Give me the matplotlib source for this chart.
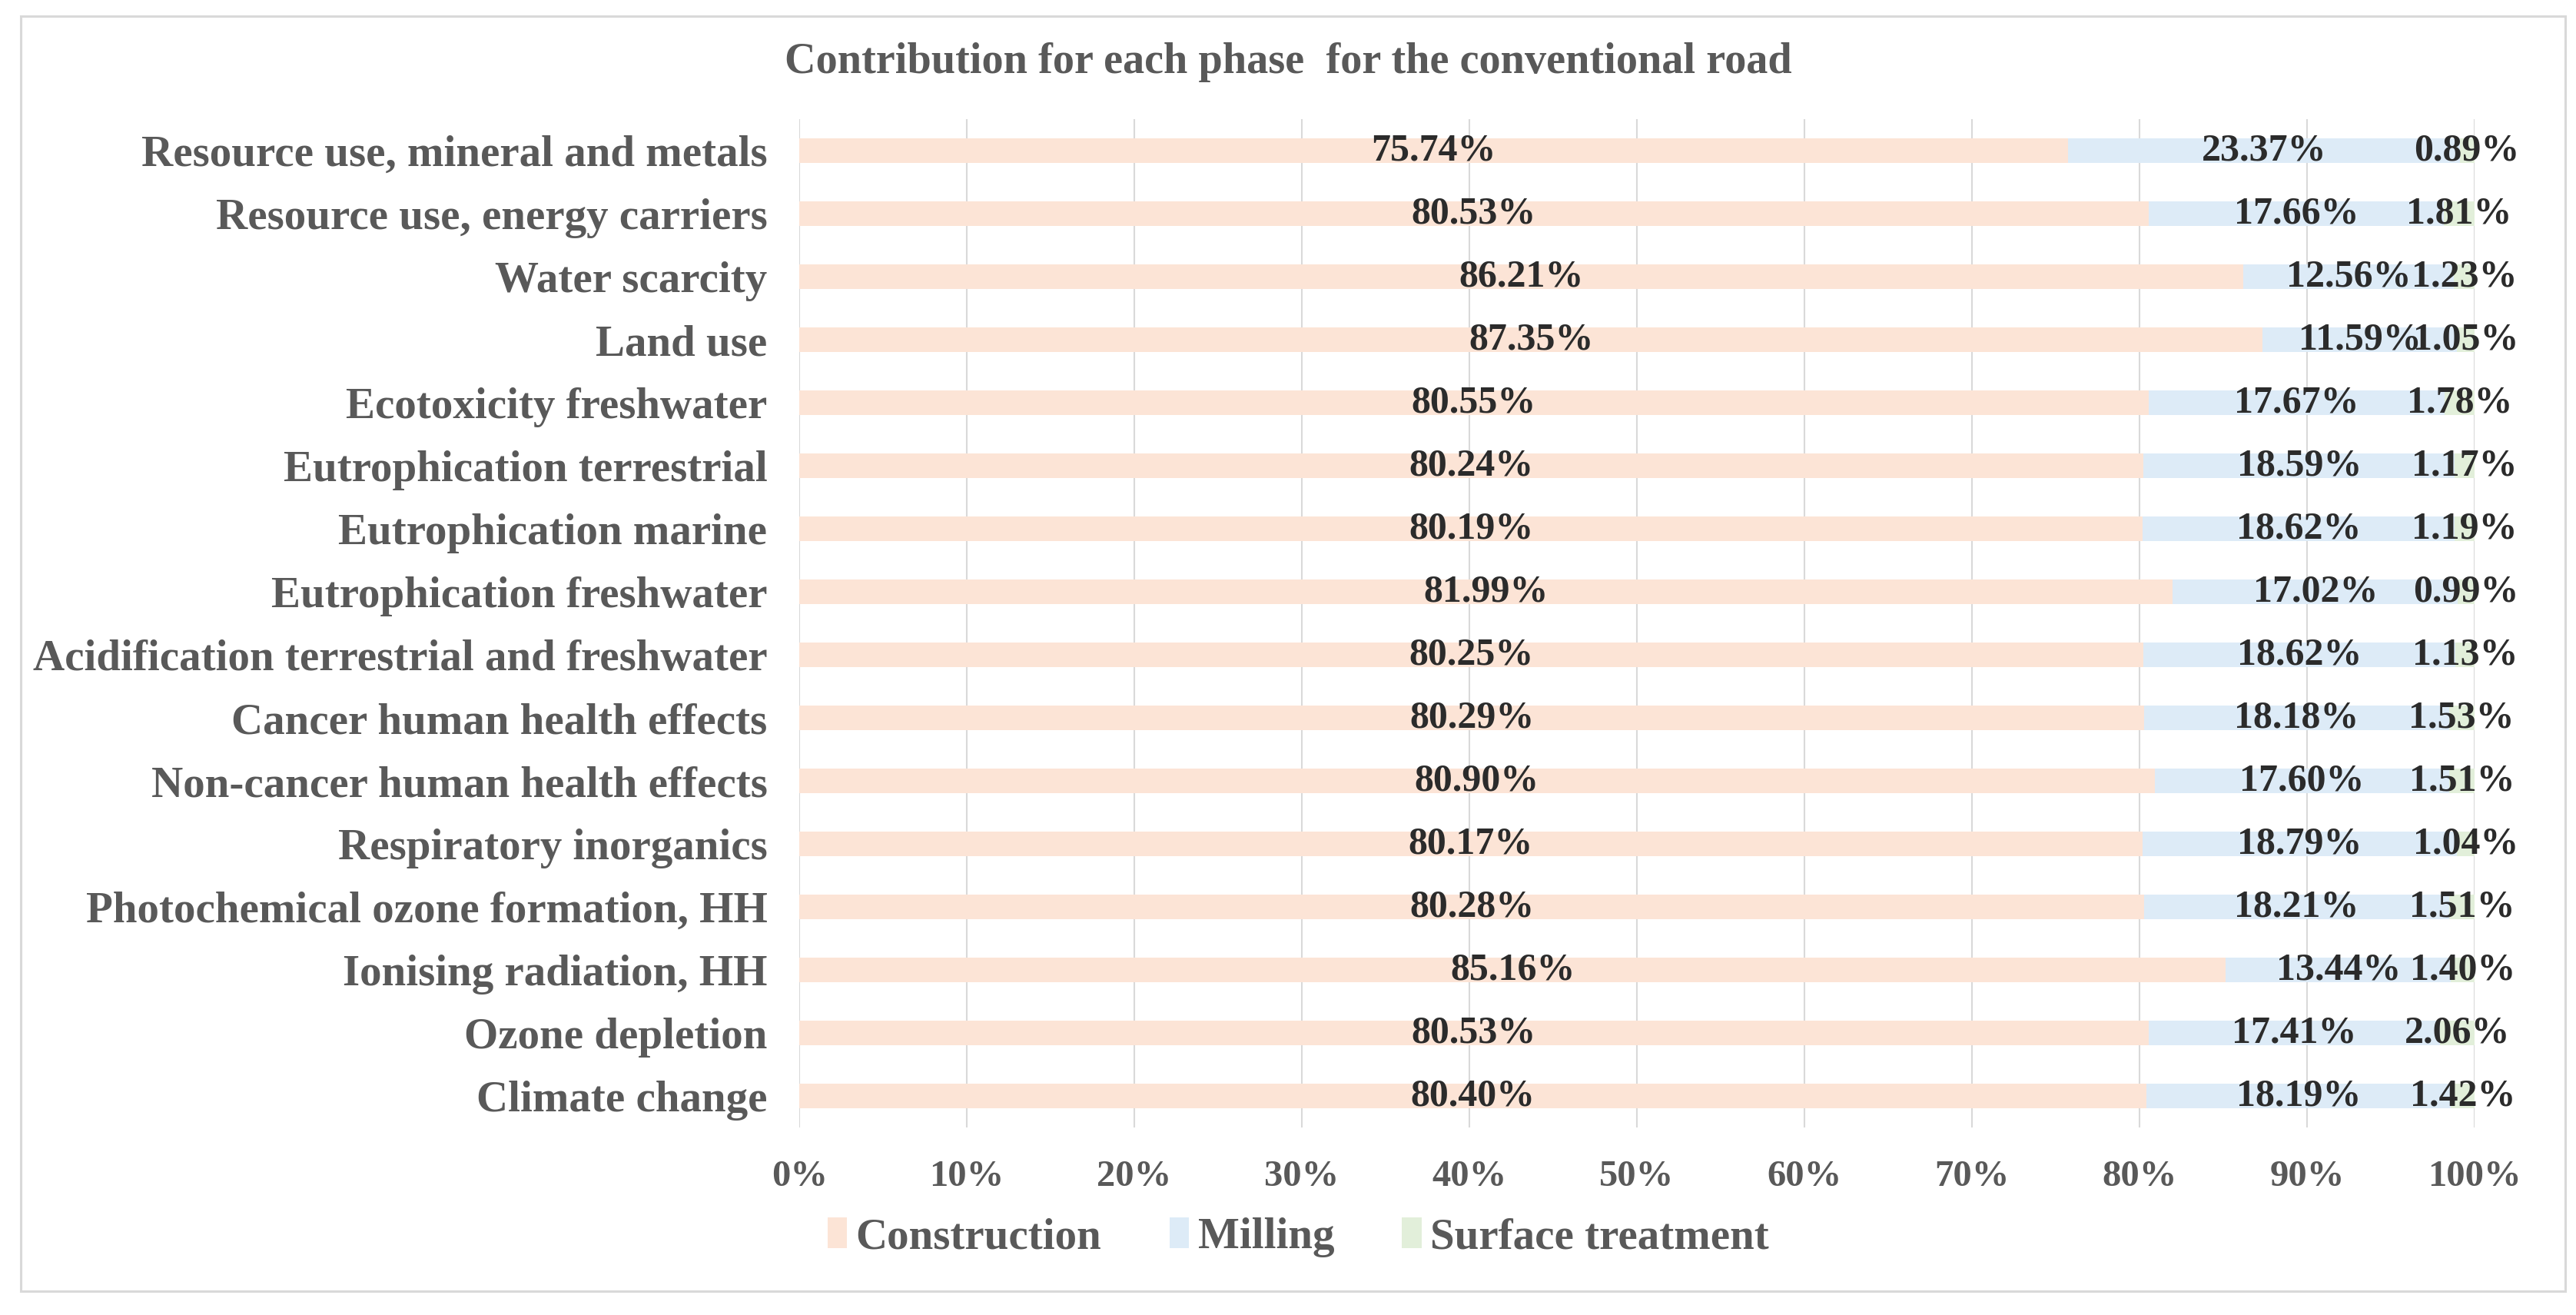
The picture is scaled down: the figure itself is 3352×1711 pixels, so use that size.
import numpy as np
import matplotlib.pyplot as plt
from matplotlib.patches import Rectangle

# data (top to bottom as shown in the chart)
categories = [
    "Resource use, mineral and metals",
    "Resource use, energy carriers",
    "Water scarcity",
    "Land use",
    "Ecotoxicity freshwater",
    "Eutrophication terrestrial",
    "Eutrophication marine",
    "Eutrophication freshwater",
    "Acidification terrestrial and freshwater",
    "Cancer human health effects",
    "Non-cancer human health effects",
    "Respiratory inorganics",
    "Photochemical ozone formation, HH",
    "Ionising radiation, HH",
    "Ozone depletion",
    "Climate change",
]
construction = [75.74, 80.53, 86.21, 87.35, 80.55, 80.24, 80.19, 81.99,
                80.25, 80.29, 80.90, 80.17, 80.28, 85.16, 80.53, 80.40]
milling = [23.37, 17.66, 12.56, 11.59, 17.67, 18.59, 18.62, 17.02,
           18.62, 18.18, 17.60, 18.79, 18.21, 13.44, 17.41, 18.19]
surface = [0.89, 1.81, 1.23, 1.05, 1.78, 1.17, 1.19, 0.99,
           1.13, 1.53, 1.51, 1.04, 1.51, 1.40, 2.06, 1.42]
series_names = ["Construction", "Milling", "Surface treatment"]
colors = ["#FCE4D6", "#DDEBF7", "#E2EFDA"]
ticks = np.arange(0, 101, 10)

FONT = "Liberation Serif"
FS_LAB = 41     # category labels, legend
FS_TITLE = 40.5
FS_VAL = 36     # data labels
FS_TICK = 35
GREY = "#595959"
DARK = "#2b2b2b"

fig = plt.figure(figsize=(33.52, 17.11), dpi=100)
ax = fig.add_axes([0.3103, 0.1426, 0.6503, 0.7668])

y = np.arange(len(categories))
left = np.zeros(len(categories))
for vals, name, col in zip([construction, milling, surface], series_names, colors):
    bars = ax.barh(y, vals, left=left, height=0.4, color=col, label=name)
    ax.bar_label(bars, labels=[f"{v:.2f}%" for v in vals], label_type="center",
                 fontsize=FS_VAL, fontfamily=FONT, fontweight="bold", color=DARK)
    left = left + np.array(vals)

ax.set_xlim(0, 100)
ax.set_ylim(len(categories) - 0.5, -0.5)
ax.set_yticks(y)
ax.set_yticklabels(categories, fontsize=FS_LAB, fontfamily=FONT, fontweight="bold", color=GREY)
ax.set_xticks(ticks)
ax.set_xticklabels([f"{t}%" for t in ticks], fontsize=FS_TICK, fontfamily=FONT,
                   fontweight="bold", color=GREY)
ax.tick_params(axis="both", length=0)
ax.tick_params(axis="x", pad=30)
ax.tick_params(axis="y", pad=30)
ax.xaxis.grid(True, color="#d9d9d9", linewidth=1.5)
ax.set_axisbelow(True)
for s in ax.spines.values():
    s.set_visible(False)

fig.text(0.5, 0.9527, "Contribution for each phase  for the conventional road",
         ha="center", va="center", fontsize=FS_TITLE, fontfamily=FONT,
         fontweight="bold", color=GREY)

leg = fig.legend(loc="center", bbox_to_anchor=(0.504, 0.059), ncol=3, frameon=False,
                 handlelength=0.45, handleheight=0.7, handletextpad=0.2,
                 columnspacing=1.55,
                 prop={"family": FONT, "weight": "bold", "size": FS_LAB})
for t in leg.get_texts():
    t.set_color(GREY)

fig.patches.append(Rectangle((0.008, 0.018), 0.9878, 0.970, transform=fig.transFigure,
                             fill=False, edgecolor="#d9d9d9", linewidth=2.2))

fig.savefig("out.png", dpi=100, facecolor="white")
